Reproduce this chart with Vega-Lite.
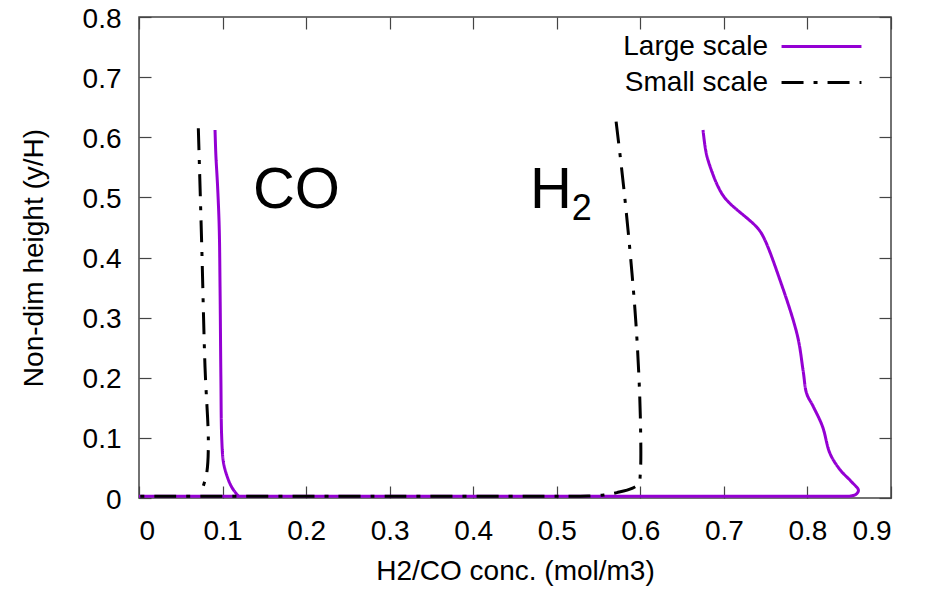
{
  "$schema": "https://vega.github.io/schema/vega-lite/v6.json",
  "autosize": {"type": "none"},
  "width": 752,
  "height": 481,
  "padding": {"left": 139, "top": 17, "right": 36, "bottom": 92},
  "background": "white",
  "config": {
    "font": "Liberation Sans",
    "view": {"stroke": "#444", "strokeWidth": 1.5},
    "axis": {"grid": false, "domain": false, "tickColor": "#444", "tickWidth": 1.2, "tickSize": -12,
             "labelFont": "Liberation Sans", "labelFontSize": 28, "labelColor": "#000",
             "titleFont": "Liberation Sans", "titleFontSize": 28, "titleFontWeight": "normal", "titleColor": "#000"}
  },
  "datasets": {
    "curves": [
      {"scale": "Large scale", "curve": "CO-L", "i": 1, "x": 0.091, "y": 0.612},
      {"scale": "Large scale", "curve": "CO-L", "i": 2, "x": 0.092, "y": 0.57},
      {"scale": "Large scale", "curve": "CO-L", "i": 3, "x": 0.094, "y": 0.52},
      {"scale": "Large scale", "curve": "CO-L", "i": 4, "x": 0.096, "y": 0.45},
      {"scale": "Large scale", "curve": "CO-L", "i": 5, "x": 0.097, "y": 0.35},
      {"scale": "Large scale", "curve": "CO-L", "i": 6, "x": 0.098, "y": 0.2},
      {"scale": "Large scale", "curve": "CO-L", "i": 7, "x": 0.099, "y": 0.1},
      {"scale": "Large scale", "curve": "CO-L", "i": 8, "x": 0.101, "y": 0.06},
      {"scale": "Large scale", "curve": "CO-L", "i": 9, "x": 0.105, "y": 0.038},
      {"scale": "Large scale", "curve": "CO-L", "i": 10, "x": 0.111, "y": 0.018},
      {"scale": "Large scale", "curve": "CO-L", "i": 11, "x": 0.119, "y": 0.003},
      {"scale": "Large scale", "curve": "H2-L", "i": 1, "x": 0.675, "y": 0.612},
      {"scale": "Large scale", "curve": "H2-L", "i": 2, "x": 0.678, "y": 0.58},
      {"scale": "Large scale", "curve": "H2-L", "i": 3, "x": 0.681, "y": 0.562},
      {"scale": "Large scale", "curve": "H2-L", "i": 4, "x": 0.693, "y": 0.518},
      {"scale": "Large scale", "curve": "H2-L", "i": 5, "x": 0.703, "y": 0.496},
      {"scale": "Large scale", "curve": "H2-L", "i": 6, "x": 0.739, "y": 0.451},
      {"scale": "Large scale", "curve": "H2-L", "i": 7, "x": 0.747, "y": 0.435},
      {"scale": "Large scale", "curve": "H2-L", "i": 8, "x": 0.767, "y": 0.363},
      {"scale": "Large scale", "curve": "H2-L", "i": 9, "x": 0.788, "y": 0.27},
      {"scale": "Large scale", "curve": "H2-L", "i": 10, "x": 0.795, "y": 0.21},
      {"scale": "Large scale", "curve": "H2-L", "i": 11, "x": 0.799, "y": 0.174},
      {"scale": "Large scale", "curve": "H2-L", "i": 12, "x": 0.807, "y": 0.152},
      {"scale": "Large scale", "curve": "H2-L", "i": 13, "x": 0.818, "y": 0.119},
      {"scale": "Large scale", "curve": "H2-L", "i": 14, "x": 0.827, "y": 0.074},
      {"scale": "Large scale", "curve": "H2-L", "i": 15, "x": 0.839, "y": 0.047},
      {"scale": "Large scale", "curve": "H2-L", "i": 16, "x": 0.852, "y": 0.028},
      {"scale": "Large scale", "curve": "H2-L", "i": 17, "x": 0.861, "y": 0.013},
      {"scale": "Large scale", "curve": "H2-L", "i": 18, "x": 0.858, "y": 0.006},
      {"scale": "Large scale", "curve": "H2-L", "i": 19, "x": 0.85, "y": 0.003},
      {"scale": "Large scale", "curve": "H2-L", "i": 20, "x": 0.84, "y": 0.003},
      {"scale": "Large scale", "curve": "H2-L", "i": 21, "x": 0.8, "y": 0.003},
      {"scale": "Large scale", "curve": "H2-L", "i": 22, "x": 0.6, "y": 0.003},
      {"scale": "Large scale", "curve": "H2-L", "i": 23, "x": 0.3, "y": 0.003},
      {"scale": "Large scale", "curve": "H2-L", "i": 24, "x": 0.0, "y": 0.003},
      {"scale": "Small scale", "curve": "CO-S", "i": 1, "x": 0.071, "y": 0.615},
      {"scale": "Small scale", "curve": "CO-S", "i": 2, "x": 0.075, "y": 0.424},
      {"scale": "Small scale", "curve": "CO-S", "i": 3, "x": 0.079, "y": 0.218},
      {"scale": "Small scale", "curve": "CO-S", "i": 4, "x": 0.083, "y": 0.091},
      {"scale": "Small scale", "curve": "CO-S", "i": 5, "x": 0.081, "y": 0.041},
      {"scale": "Small scale", "curve": "CO-S", "i": 6, "x": 0.076, "y": 0.016},
      {"scale": "Small scale", "curve": "H2-S", "i": 1, "x": 0.571, "y": 0.626},
      {"scale": "Small scale", "curve": "H2-S", "i": 2, "x": 0.58, "y": 0.518},
      {"scale": "Small scale", "curve": "H2-S", "i": 3, "x": 0.59, "y": 0.374},
      {"scale": "Small scale", "curve": "H2-S", "i": 4, "x": 0.596, "y": 0.263},
      {"scale": "Small scale", "curve": "H2-S", "i": 5, "x": 0.6, "y": 0.135},
      {"scale": "Small scale", "curve": "H2-S", "i": 6, "x": 0.6, "y": 0.041},
      {"scale": "Small scale", "curve": "H2-S", "i": 7, "x": 0.598, "y": 0.024},
      {"scale": "Small scale", "curve": "H2-S", "i": 8, "x": 0.59, "y": 0.016},
      {"scale": "Small scale", "curve": "H2-S", "i": 9, "x": 0.572, "y": 0.009},
      {"scale": "Small scale", "curve": "H2-S", "i": 10, "x": 0.556, "y": 0.005},
      {"scale": "Small scale", "curve": "H2-S", "i": 11, "x": 0.528, "y": 0.003},
      {"scale": "Small scale", "curve": "H2-S", "i": 12, "x": 0.5, "y": 0.003},
      {"scale": "Small scale", "curve": "H2-S", "i": 13, "x": 0.3, "y": 0.003},
      {"scale": "Small scale", "curve": "H2-S", "i": 14, "x": 0.0, "y": 0.003}
    ],
    "labels": [
      {"text": "CO", "x": 0.1364, "y": 0.4825, "size": "big"},
      {"text": "H", "x": 0.468, "y": 0.4825, "size": "big"},
      {"text": "2", "x": 0.518, "y": 0.4626, "size": "sub"}
    ]
  },
  "resolve": {"axis": {"x": "independent", "y": "independent"}},
  "layer": [
    {
      "data": {"name": "curves"},
      "mark": {"type": "line", "strokeWidth": 3, "interpolate": "catmull-rom"},
      "encoding": {
        "x": {"field": "x", "type": "quantitative",
              "scale": {"domain": [0, 0.9], "nice": false, "zero": false},
              "axis": {"orient": "bottom", "values": [0, 0.1, 0.2, 0.3, 0.4, 0.5, 0.6, 0.7, 0.8, 0.9], "format": "~g",
                       "labelPadding": 31, "title": "H2/CO conc. (mol/m3)", "titlePadding": 12}},
        "y": {"field": "y", "type": "quantitative",
              "scale": {"domain": [0, 0.8], "nice": false, "zero": false},
              "axis": {"orient": "left", "values": [0, 0.1, 0.2, 0.3, 0.4, 0.5, 0.6, 0.7, 0.8], "format": "~g",
                       "labelPadding": 30, "labelOffset": 2, "title": "Non-dim height (y/H)", "titlePadding": 34}},
        "color": {"field": "scale", "type": "nominal",
                  "scale": {"domain": ["Large scale", "Small scale"], "range": ["#9400D3", "#000000"]},
                  "legend": {"title": null, "orient": "none", "legendX": 663, "legendY": 10,
                             "symbolType": "M-2.22,0H2.22", "symbolSize": 1296, "symbolStrokeWidth": 3,
                             "labelFontSize": 28, "labelFont": "Liberation Sans", "labelColor": "#000",
                             "labelAlign": "right", "labelOffset": -73, "rowPadding": 2}},
        "strokeDash": {"field": "scale", "type": "nominal",
                  "scale": {"domain": ["Large scale", "Small scale"], "range": [[1, 0], [22, 10, 4, 10]]},
                  "legend": {"title": null, "orient": "none", "legendX": 663, "legendY": 10,
                             "symbolType": "M-2.22,0H2.22", "symbolSize": 1296, "symbolStrokeWidth": 3,
                             "labelFontSize": 28, "labelFont": "Liberation Sans", "labelColor": "#000",
                             "labelAlign": "right", "labelOffset": -73, "rowPadding": 2}},
        "detail": {"field": "curve"},
        "order": {"field": "i", "type": "quantitative"}
      }
    },
    {
      "data": {"name": "labels"},
      "mark": {"type": "text", "align": "left", "baseline": "alphabetic", "font": "Liberation Sans", "color": "#000"},
      "encoding": {
        "x": {"field": "x", "type": "quantitative",
              "axis": {"orient": "top", "values": [0, 0.1, 0.2, 0.3, 0.4, 0.5, 0.6, 0.7, 0.8, 0.9], "labels": false, "title": null}},
        "y": {"field": "y", "type": "quantitative",
              "axis": {"orient": "right", "values": [0, 0.1, 0.2, 0.3, 0.4, 0.5, 0.6, 0.7, 0.8], "labels": false, "title": null}},
        "text": {"field": "text"},
        "size": {"field": "size", "type": "nominal", "scale": {"domain": ["big", "sub"], "range": [58, 36]}, "legend": null}
      }
    }
  ]
}
